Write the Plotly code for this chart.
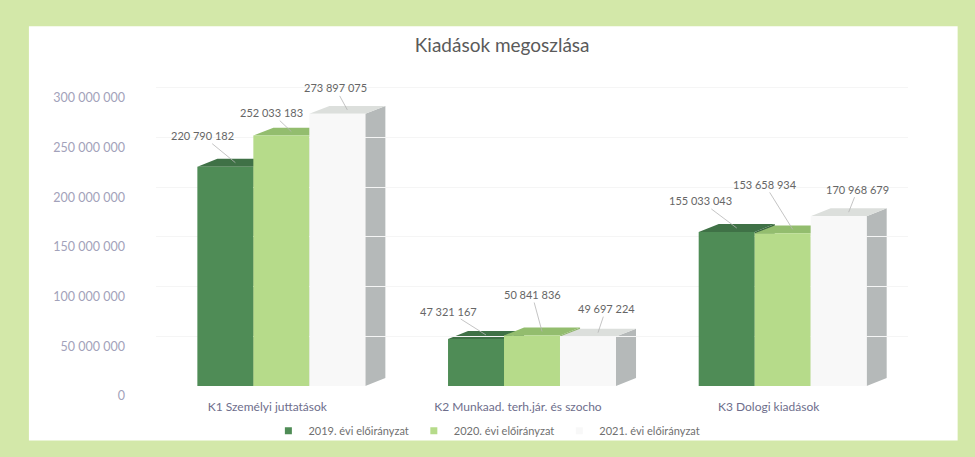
import plotly.graph_objects as go

# ---- data ----
categories = ["K1 Személyi juttatások", "K2 Munkaad. terh.jár. és szocho", "K3 Dologi kiadások"]
series_names = ["2019. évi előirányzat", "2020. évi előirányzat", "2021. évi előirányzat"]
values_2019 = [220790182, 47321167, 155033043]
values_2020 = [252033183, 50841836, 153658934]
values_2021 = [273897075, 49697224, 170968679]
y_tick_values = [0, 50000000, 100000000, 150000000, 200000000, 250000000, 300000000]
y_tick_labels = ["0", "50 000 000", "100 000 000", "150 000 000", "200 000 000", "250 000 000", "300 000 000"]
title_text = "Kiadások megoszlása"

# ---- styles ----
FONT = "Lato, Open Sans, sans-serif"
front_colors = ["#4f8c56", "#b6db8a", "#f8f8f8"]
top_colors = ["#3f7146", "#93bd6e", "#dcdfdc"]
side_colors = ["#3a6640", "#8fb56c", "#b5b9b9"]
BARGAP = 0.33
DX = 0.08           # depth (category units)
DY = 8e6            # depth (value units)
Y_MAX = 310e6
label_offsets = [  # (ax, ay) pixel offsets of value labels, per series per category
    [(-33, -27), (-38, -24), (-36, -27)],
    [(-20, -19), (-10, -37), (-28, -45)],
    [(-12, -22), (8, -24), (9, -23)],
]

series_values = [values_2019, values_2020, values_2021]
n_series = len(series_values)
bw = (1 - BARGAP) / n_series
xs = list(range(len(categories)))

def fmt(v):
    return f"{v:,}".replace(",", " ")

fig = go.Figure()

shapes = []
# white card behind the chart
shapes.append(dict(type="rect", xref="paper", yref="paper", x0=-0.169, x1=1.066, y0=-0.177, y1=1.168,
                   fillcolor="white", line=dict(width=0), layer="below"))
# 3D faces as shapes below the bars
for ci in xs:
    for si in range(n_series):
        v = series_values[si][ci]
        xc = ci + (si - (n_series - 1) / 2) * bw
        x0, x1 = xc - bw / 2, xc + bw / 2
        shapes.append(dict(type="path", xref="x", yref="y", layer="below",
                           path=f"M {x1},0 L {x1},{v} L {x1+DX},{v+DY} L {x1+DX},{DY} Z",
                           fillcolor=side_colors[si], line=dict(width=0)))
        shapes.append(dict(type="path", xref="x", yref="y", layer="below",
                           path=f"M {x0},{v} L {x1},{v} L {x1+DX},{v+DY} L {x0+DX},{v+DY} Z",
                           fillcolor=top_colors[si], line=dict(width=0)))

for si in range(n_series):
    fig.add_trace(go.Bar(
        x=xs, y=series_values[si], name=series_names[si], showlegend=False,
        marker=dict(color=front_colors[si], line=dict(width=0)),
        hoverinfo="skip",
    ))
# legend entries with small square swatches
for si in range(n_series):
    fig.add_trace(go.Scatter(
        x=[None], y=[None], mode="markers", name=series_names[si],
        marker=dict(symbol="square", size=7, color=front_colors[si]),
        showlegend=True,
    ))

annotations = []
for si in range(n_series):
    for ci in xs:
        v = series_values[si][ci]
        xc = ci + (si - (n_series - 1) / 2) * bw
        ax, ay = label_offsets[si][ci]
        annotations.append(dict(
            x=xc + DX / 2, y=v + DY / 2, xref="x", yref="y",
            text=fmt(v), showarrow=True, arrowhead=0, arrowwidth=0.8,
            arrowcolor="#b5b5b5", ax=ax, ay=ay, standoff=0,
            font=dict(family=FONT, size=11, color="#666666"),
        ))

fig.update_layout(
    width=975, height=457,
    margin=dict(l=156, r=67, t=78, b=69),
    paper_bgcolor="#d3e8a9",
    plot_bgcolor="rgba(0,0,0,0)",
    barmode="group", bargap=BARGAP, bargroupgap=0,
    shapes=shapes, annotations=annotations,
    title=dict(text=title_text, x=0.515, xanchor="center", y=0.9, yanchor="middle",
               font=dict(family=FONT, size=19, color="#5a5a5a")),
    legend=dict(orientation="h", x=0.44, xanchor="center", y=-0.145, yanchor="middle",
                font=dict(family=FONT, size=11, color="#707070"),
                bgcolor="rgba(0,0,0,0)", itemwidth=30, traceorder="normal"),
    showlegend=True,
)
fig.update_xaxes(
    tickvals=xs, ticktext=categories, range=[-0.5, len(categories) - 0.5],
    showgrid=False, zeroline=False, showline=False, ticks="",
    ticklabelstandoff=12, ticklabelshift=-14,
    tickfont=dict(family=FONT, size=12, color="#6e6e8c"),
)
fig.update_yaxes(
    range=[0, Y_MAX], tickvals=y_tick_values, ticktext=y_tick_labels,
    showgrid=True, gridcolor="#f5f5f5", zeroline=False, showline=False, ticks="",
    ticklabelstandoff=30, ticklabelshift=10,
    tickfont=dict(family=FONT, size=12.5, color="#a2a2ba"),
)

fig.write_html("out.html", config={"displayModeBar": False},
               post_script="document.body.style.margin='0';document.body.style.background='#d3e8a9';")
